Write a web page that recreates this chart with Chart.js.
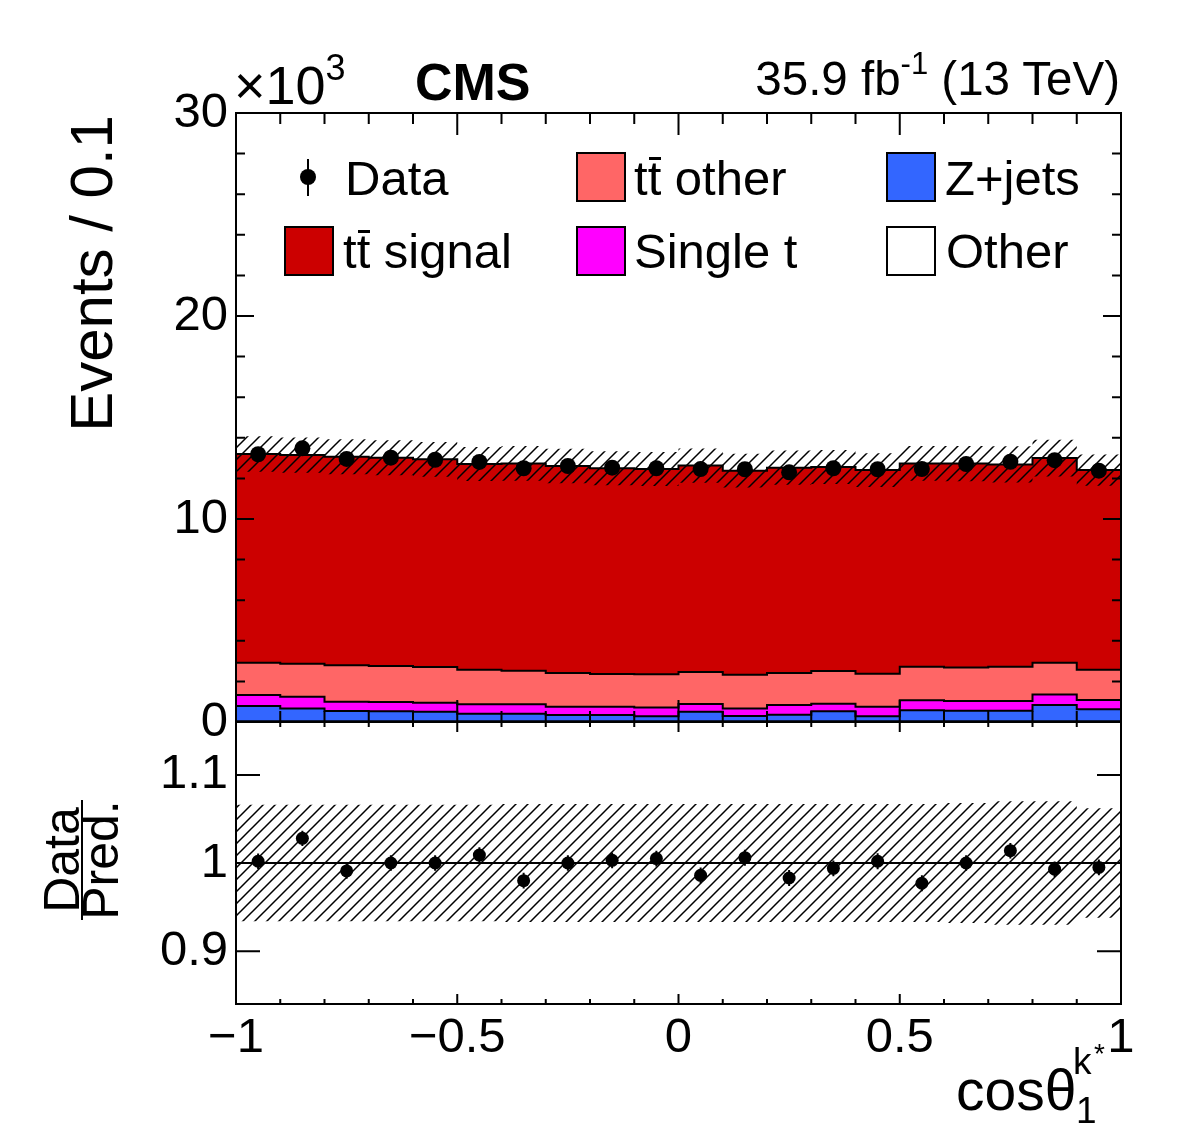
<!DOCTYPE html>
<html><head><meta charset="utf-8">
<script src="https://cdn.jsdelivr.net/npm/chart.js@4.4.0/dist/chart.umd.min.js"></script>
<style>
html,body{margin:0;padding:0;background:#fff;}
#wrap{position:relative;width:1182px;height:1134px;overflow:hidden;font-family:'Liberation Sans',Arial,Helvetica,sans-serif;color:#000;}
canvas{position:absolute;left:0;top:0;}
.t{position:absolute;white-space:nowrap;line-height:0;}
.box{position:absolute;width:50px;height:50px;box-sizing:border-box;border:2px solid #000;}
.ov{position:relative;}
.ov i{position:absolute;left:1px;right:0px;top:6px;height:2.5px;background:#000;}
</style></head><body>
<div id="wrap">
<canvas id="ratio" width="1182" height="1134"></canvas>
<canvas id="main" width="1182" height="1134"></canvas>
</div>
<script>
// ---------- data (events in thousands per bin of 0.1) ----------
const binEdges   = [-1,-0.9,-0.8,-0.7,-0.6,-0.5,-0.4,-0.3,-0.2,-0.1,0,0.1,0.2,0.3,0.4,0.5,0.6,0.7,0.8,0.9,1];
const binCenters = [-0.95,-0.85,-0.75,-0.65,-0.55,-0.45,-0.35,-0.25,-0.15,-0.05,0.05,0.15,0.25,0.35,0.45,0.55,0.65,0.75,0.85,0.95];
const ttSignal = [10.28,10.28,10.28,10.26,10.23,10.13,10.21,10.20,10.14,10.11,10.17,10.05,10.12,10.05,10.03,10.02,10.04,9.97,10.08,9.83];
const ttOther  = [1.59,1.62,1.79,1.77,1.76,1.71,1.66,1.66,1.61,1.63,1.57,1.66,1.57,1.61,1.63,1.65,1.66,1.69,1.56,1.50];
const singleT  = [0.54,0.58,0.46,0.46,0.44,0.46,0.46,0.41,0.41,0.44,0.38,0.37,0.48,0.37,0.47,0.49,0.47,0.47,0.52,0.45];
const zJets    = [0.75,0.63,0.50,0.49,0.47,0.37,0.37,0.30,0.30,0.24,0.47,0.26,0.32,0.49,0.24,0.54,0.52,0.52,0.80,0.59];
const otherBkg = [0.04,0.04,0.04,0.04,0.04,0.04,0.04,0.04,0.04,0.04,0.04,0.04,0.04,0.04,0.04,0.04,0.04,0.04,0.04,0.04];
const dataValues = [13.19,13.48,12.96,13.02,12.92,12.81,12.50,12.61,12.53,12.50,12.46,12.45,12.30,12.50,12.45,12.46,12.71,12.82,12.90,12.38];
const dataErr    = [0.115,0.116,0.114,0.114,0.114,0.113,0.112,0.112,0.112,0.112,0.112,0.112,0.111,0.112,0.112,0.112,0.113,0.113,0.114,0.111];
const predUnc    = [0.066,0.066,0.066,0.066,0.066,0.066,0.067,0.067,0.067,0.067,0.067,0.067,0.067,0.067,0.067,0.067,0.068,0.070,0.070,0.062];
const ratioValues = [1.002,1.028,0.991,1.000,1.000,1.009,0.980,1.000,1.003,1.005,0.986,1.006,0.983,0.994,1.002,0.977,1.000,1.014,0.993,0.995];
const ratioErr    = [0.0088,0.0086,0.0088,0.0088,0.0088,0.0088,0.0089,0.0089,0.0089,0.0089,0.0090,0.0090,0.0090,0.0089,0.0090,0.0090,0.0089,0.0088,0.0088,0.0090];
const yTicksMain  = [0,10,20,30];
const yTicksRatio = [0.9,1,1.1];
const xTicks      = [-1,-0.5,0,0.5,1];

// ---------- helpers ----------
const FONT = "'Liberation Sans', Arial, Helvetica, sans-serif";
const cum = (...arrs) => arrs[0].map((_, i) => arrs.reduce((s, a) => s + a[i], 0));
const steps = vals => binEdges.map((x, i) => ({x, y: vals[Math.min(i, vals.length - 1)]}));
const pts = vals => binCenters.map((x, i) => ({x, y: vals[i]}));
const fmtNum = v => (v < 0 ? '\u2212' + String(+(-v).toFixed(2)) : String(+v.toFixed(2)));

function hatch(ctx) {
  const s = 12, c = document.createElement('canvas');
  c.width = s; c.height = s;
  const g = c.getContext('2d');
  g.strokeStyle = '#000'; g.lineWidth = 1.5; g.lineCap = 'square';
  g.beginPath();
  g.moveTo(0, s); g.lineTo(s, 0);
  g.moveTo(-s / 2, s / 2); g.lineTo(s / 2, -s / 2);
  g.moveTo(s / 2, s * 1.5); g.lineTo(s * 1.5, s / 2);
  g.stroke();
  return ctx.createPattern(c, 'repeat');
}

function framePlugin(cfg) {
  return {
    id: 'frame_' + cfg.name,
    afterDatasetsDraw(chart) {
      const {ctx, chartArea: a, scales: {x, y}} = chart;
      ctx.save();
      if (cfg.err) {
        ctx.strokeStyle = '#000'; ctx.lineWidth = 2; ctx.beginPath();
        cfg.vals.forEach((v, i) => {
          const px = x.getPixelForValue(binCenters[i]);
          ctx.moveTo(px, y.getPixelForValue(v - cfg.err[i]));
          ctx.lineTo(px, y.getPixelForValue(v + cfg.err[i]));
        });
        ctx.stroke();
      }
      ctx.strokeStyle = '#000'; ctx.lineWidth = 2; ctx.beginPath();
      cfg.yMajor.forEach(v => {
        const p = y.getPixelForValue(v);
        ctx.moveTo(a.left, p); ctx.lineTo(a.left + cfg.yMajLen, p);
        ctx.moveTo(a.right, p); ctx.lineTo(a.right - cfg.yMajLen, p);
      });
      if (cfg.yMinorStep) {
        for (let v = y.min; v <= y.max + 1e-9; v += cfg.yMinorStep) {
          const p = y.getPixelForValue(v);
          ctx.moveTo(a.left, p); ctx.lineTo(a.left + cfg.yMinLen, p);
          ctx.moveTo(a.right, p); ctx.lineTo(a.right - cfg.yMinLen, p);
        }
      }
      xTicks.forEach(v => {
        const p = x.getPixelForValue(v);
        ctx.moveTo(p, a.bottom); ctx.lineTo(p, a.bottom - cfg.xMajLen);
        ctx.moveTo(p, a.top); ctx.lineTo(p, a.top + cfg.xMajLen);
      });
      for (let k = 0; k < binEdges.length; k++) {
        const p = x.getPixelForValue(binEdges[k]);
        ctx.moveTo(p, a.bottom); ctx.lineTo(p, a.bottom - cfg.xMinLen);
        ctx.moveTo(p, a.top); ctx.lineTo(p, a.top + cfg.xMinLen);
      }
      ctx.stroke();
      ctx.strokeRect(a.left, a.top, a.right - a.left, a.bottom - a.top);
      ctx.restore();
    }
  };
}

function stepLayer(vals, color) {
  return {data: steps(vals), stepped: true, fill: 'origin', backgroundColor: color,
          borderColor: '#000', borderWidth: 2, pointRadius: 0};
}

// ---------- main panel ----------
const mainCtx = document.getElementById('main').getContext('2d');
const totOther = otherBkg;
const totZ = cum(otherBkg, zJets);
const totT = cum(otherBkg, zJets, singleT);
const totTTo = cum(otherBkg, zJets, singleT, ttOther);
const totAll = cum(otherBkg, zJets, singleT, ttOther, ttSignal);
const bandUp = totAll.map((v, i) => v * (1 + predUnc[i]));
const bandDn = totAll.map((v, i) => v * (1 - predUnc[i]));

new Chart(mainCtx, {
  type: 'line',
  data: {datasets: [
    {data: pts(dataValues), showLine: false, pointRadius: 8, pointBackgroundColor: '#000', pointBorderWidth: 0},
    {data: steps(bandUp), stepped: true, fill: '+1', backgroundColor: hatch(mainCtx), borderWidth: 0, pointRadius: 0},
    {data: steps(bandDn), stepped: true, fill: false, borderWidth: 0, pointRadius: 0},
    stepLayer(totOther, '#ffffff'),
    stepLayer(totZ, '#3366ff'),
    stepLayer(totT, '#ff00ff'),
    stepLayer(totTTo, '#ff6666'),
    stepLayer(totAll, '#cc0000')
  ]},
  options: {
    responsive: false, animation: false, devicePixelRatio: 1,
    layout: {padding: {left: 0, top: 113, right: 61, bottom: 412}},
    plugins: {legend: {display: false}, tooltip: {enabled: false}},
    scales: {
      x: {type: 'linear', min: -1, max: 1, display: false},
      y: {type: 'linear', min: 0, max: 30,
          afterFit(s) { s.width = 236; },
          afterBuildTicks(s) { s.ticks = yTicksMain.map(v => ({value: v})); },
          grid: {display: false, drawTicks: false}, border: {display: false},
          ticks: {font: {family: FONT, size: 49}, color: '#000', padding: 8, autoSkip: false, callback: v => fmtNum(v)}}
    }
  },
  plugins: [framePlugin({name: 'main', vals: dataValues, err: dataErr, yMajor: yTicksMain, yMajLen: 18,
                         yMinorStep: 2, yMinLen: 9, xMajLen: 22, xMinLen: 11})]
});

// ---------- ratio panel ----------
const ratioCtx = document.getElementById('ratio').getContext('2d');
const unityLine = [1, 1];
new Chart(ratioCtx, {
  type: 'line',
  data: {datasets: [
    {data: pts(ratioValues), showLine: false, pointRadius: 6.5, pointBackgroundColor: '#000', pointBorderWidth: 0},
    {data: [{x: -1, y: unityLine[0]}, {x: 1, y: unityLine[1]}], borderColor: '#000', borderWidth: 2, pointRadius: 0, fill: false},
    {data: steps(predUnc.map(u => 1 + u)), stepped: true, fill: '+1', backgroundColor: hatch(ratioCtx), borderWidth: 0, pointRadius: 0},
    {data: steps(predUnc.map(u => 1 - u)), stepped: true, fill: false, borderWidth: 0, pointRadius: 0}
  ]},
  options: {
    responsive: false, animation: false, devicePixelRatio: 1,
    layout: {padding: {left: 0, top: 722, right: 61, bottom: 0}},
    plugins: {legend: {display: false}, tooltip: {enabled: false}},
    scales: {
      x: {type: 'linear', min: -1, max: 1,
          afterFit(s) { s.height = 130; },
          afterBuildTicks(s) { s.ticks = xTicks.map(v => ({value: v})); },
          grid: {display: false, drawTicks: false}, border: {display: false},
          ticks: {font: {family: FONT, size: 49}, color: '#000', padding: 5, autoSkip: false, maxRotation: 0, callback: v => fmtNum(v)}},
      y: {type: 'linear', min: 0.84, max: 1.16,
          afterFit(s) { s.width = 236; },
          afterBuildTicks(s) { s.ticks = yTicksRatio.map(v => ({value: v})); },
          grid: {display: false, drawTicks: false}, border: {display: false},
          ticks: {font: {family: FONT, size: 49}, color: '#000', padding: 8, autoSkip: false, callback: v => fmtNum(v)}}
    }
  },
  plugins: [framePlugin({name: 'ratio', vals: ratioValues, err: ratioErr, yMajor: yTicksRatio, yMajLen: 24,
                         yMinorStep: 0, yMinLen: 0, xMajLen: 10, xMinLen: 5})]
});

// ---------- text & legend (HTML) ----------
const wrap = document.getElementById('wrap');
function txt(html, left, baseline, size, extra) {
  const d = document.createElement('div');
  d.className = 't';
  d.style.left = left + 'px';
  d.style.top = (baseline - 0.3465 * size) + 'px';
  d.style.fontSize = size + 'px';
  if (extra) Object.assign(d.style, extra);
  d.innerHTML = html;
  wrap.appendChild(d);
  return d;
}
function box(left, top, color) {
  const d = document.createElement('div');
  d.className = 'box';
  d.style.left = left + 'px'; d.style.top = top + 'px'; d.style.background = color;
  wrap.appendChild(d);
}
const TTBAR = 't<span class="ov">t<i></i></span>';
txt('CMS', 415, 100, 52, {fontWeight: 'bold'});
txt('\u00d710<span style="font-size:36px;position:relative;top:-24px">3</span>', 234, 104, 54);
const lumi = txt('35.9 fb<span style="font-size:31px;position:relative;top:-21px">-1</span> (13 TeV)', 0, 95, 47.5);
lumi.style.left = 'auto'; lumi.style.right = '62px';

// legend
const dot = document.createElement('div');
Object.assign(dot.style, {position: 'absolute', left: '300px', top: '169px', width: '16px', height: '16px', borderRadius: '50%', background: '#000'});
wrap.appendChild(dot);
const bar = document.createElement('div');
Object.assign(bar.style, {position: 'absolute', left: '307px', top: '159px', width: '2px', height: '37px', background: '#000'});
wrap.appendChild(bar);
txt('Data', 345, 195, 49);
box(576, 152, '#ff6666'); txt(TTBAR + ' other', 634, 195, 49);
box(886, 152, '#3366ff'); txt('Z+jets', 945, 195, 49);
box(284, 226, '#cc0000'); txt(TTBAR + ' signal', 343, 268, 49);
box(576, 226, '#ff00ff'); txt('Single t', 634, 268, 49);
box(886, 226, '#ffffff'); txt('Other', 946, 268, 49);

// y title (top panel)
const yt = document.createElement('div');
Object.assign(yt.style, {position: 'absolute', left: '62px', top: '515px', width: '400px', textAlign: 'right',
  lineHeight: '60px', fontSize: '60px', whiteSpace: 'nowrap', transformOrigin: '0 0', transform: 'rotate(-90deg)'});
yt.textContent = 'Events / 0.1';
wrap.appendChild(yt);

// ratio title
const rt = document.createElement('div');
Object.assign(rt.style, {position: 'absolute', left: '2px', top: '822px', width: '160px', height: '76px', fontSize: '50px',
  transform: 'rotate(-90deg)', whiteSpace: 'nowrap'});
rt.innerHTML = '<div style="text-align:center;line-height:37px">Data</div>' +
  '<div style="width:fit-content;margin:0 auto;border-top:2px solid #000;line-height:37px">Pred.</div>';
wrap.appendChild(rt);

// x title
txt('cos\u03b8', 956, 1110, 57);
txt('1', 1076, 1124, 37);
txt('k', 1073, 1075, 37);
txt('*', 1094, 1064, 28);
</script>
</body></html>
